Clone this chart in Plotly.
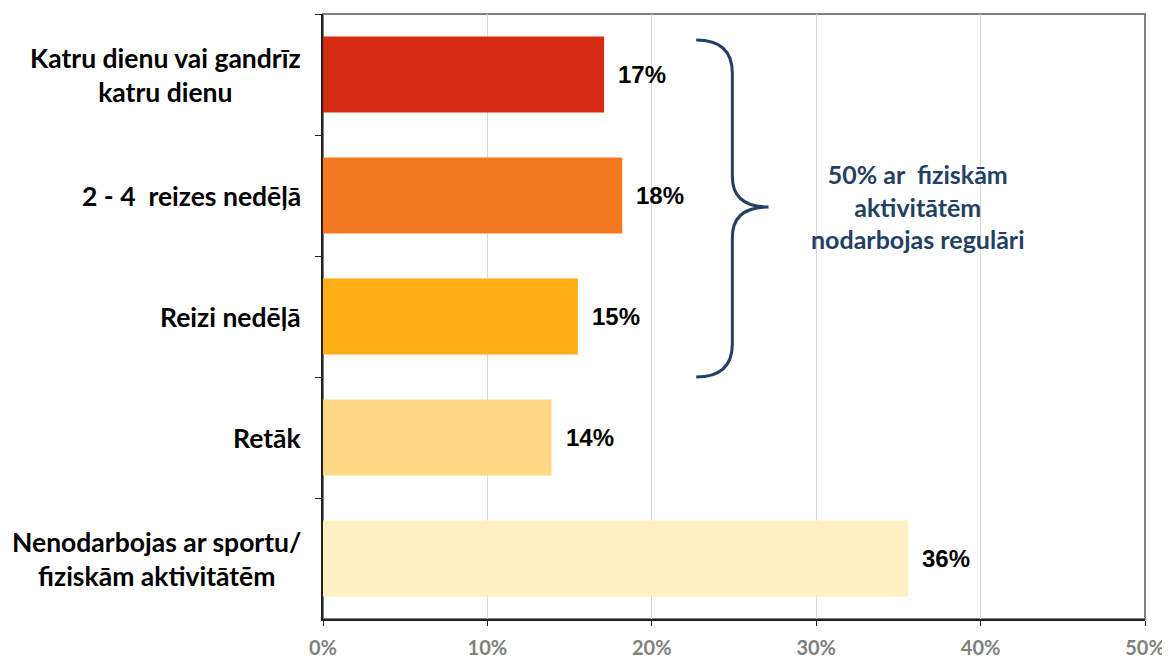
import plotly.graph_objects as go

# Data
categories = [
    "Katru dienu vai gandrīz<br>katru dienu",
    "2 - 4  reizes nedēļā",
    "Reizi nedēļā",
    "Retāk",
    "Nenodarbojas ar sportu/<br>fiziskām aktivitātēm",
]
values = [17.1, 18.2, 15.5, 13.9, 35.6]
labels = ["17%", "18%", "15%", "14%", "36%"]
colors = ["#D52B12", "#F47920", "#FDAE14", "#FDD885", "#FEF0C0"]
x_ticks = [0, 10, 20, 30, 40, 50]
x_tick_labels = ["0%", "10%", "20%", "30%", "40%", "50%"]
note_text = "50% ar  fiziskām<br>aktivitātēm<br>nodarbojas regulāri"

navy = "#243F63"

fig = go.Figure()
fig.add_trace(go.Bar(
    y=categories,
    x=values,
    orientation="h",
    marker=dict(color=colors, line=dict(width=0)),
    hoverinfo="skip",
))

# value labels next to bars
for cat, val, lab in zip(categories, values, labels):
    fig.add_annotation(
        x=val, y=cat, xref="x", yref="y", text="<b>" + lab + "</b>", showarrow=False,
        xanchor="left", xshift=12,
        font=dict(family="Liberation Sans", size=24, color="black"),
    )

# category labels, centred multi-line, right aligned block
for cat in categories:
    fig.add_annotation(
        x=0, y=cat, xref="paper", yref="y", text="<b>" + cat + "</b>", showarrow=False,
        xanchor="right", xshift=-20, align="center",
        font=dict(family="Lato", size=26.5, color="black"),
    )

# curly brace around the first three bars
brace = ("M 22.7,0.957 Q 24.9,0.957 24.9,0.902 L 24.9,0.731 "
         "Q 24.9,0.681 27.1,0.681 Q 24.9,0.681 24.9,0.631 "
         "L 24.9,0.455 Q 24.9,0.40 22.7,0.40")
fig.add_shape(type="path", path=brace, xref="x", yref="paper",
              line=dict(color=navy, width=3))

fig.add_annotation(
    x=36.2, y=0.681, xref="x", yref="paper", text="<b>" + note_text + "</b>", showarrow=False,
    xanchor="center", yanchor="middle", align="center",
    font=dict(family="Lato", size=25, color=navy),
)

# gray frame on top/right
fig.add_shape(type="rect", xref="paper", yref="paper", x0=0, x1=1, y0=0, y1=1,
              line=dict(color="#808080", width=2), layer="below")

# page body adds an 8px margin, so the figure is a bit smaller than the window
fig.update_layout(
    width=1162, height=651,
    margin=dict(l=315, r=25, t=6, b=40),
    plot_bgcolor="white",
    paper_bgcolor="white",
    bargap=0.37,
    showlegend=False,
    xaxis=dict(
        range=[0, 50], tickvals=x_ticks, ticktext=x_tick_labels,
        showgrid=True, gridcolor="#D9D9D9", gridwidth=1,
        showline=True, linecolor="#222222", linewidth=2,
        ticks="outside", ticklen=5, tickcolor="#222222",
        ticklabelstandoff=5,
        tickfont=dict(family="Lato", size=20, color="#808080", weight="bold"),
        zeroline=False, fixedrange=True, automargin=False,
    ),
    yaxis=dict(
        autorange="reversed", type="category",
        showticklabels=False, showgrid=False,
        showline=True, linecolor="#222222", linewidth=2,
        ticks="outside", ticklen=6, tickcolor="#222222",
        tickson="boundaries", fixedrange=True, automargin=False,
    ),
)

fig.write_html("out.html")
